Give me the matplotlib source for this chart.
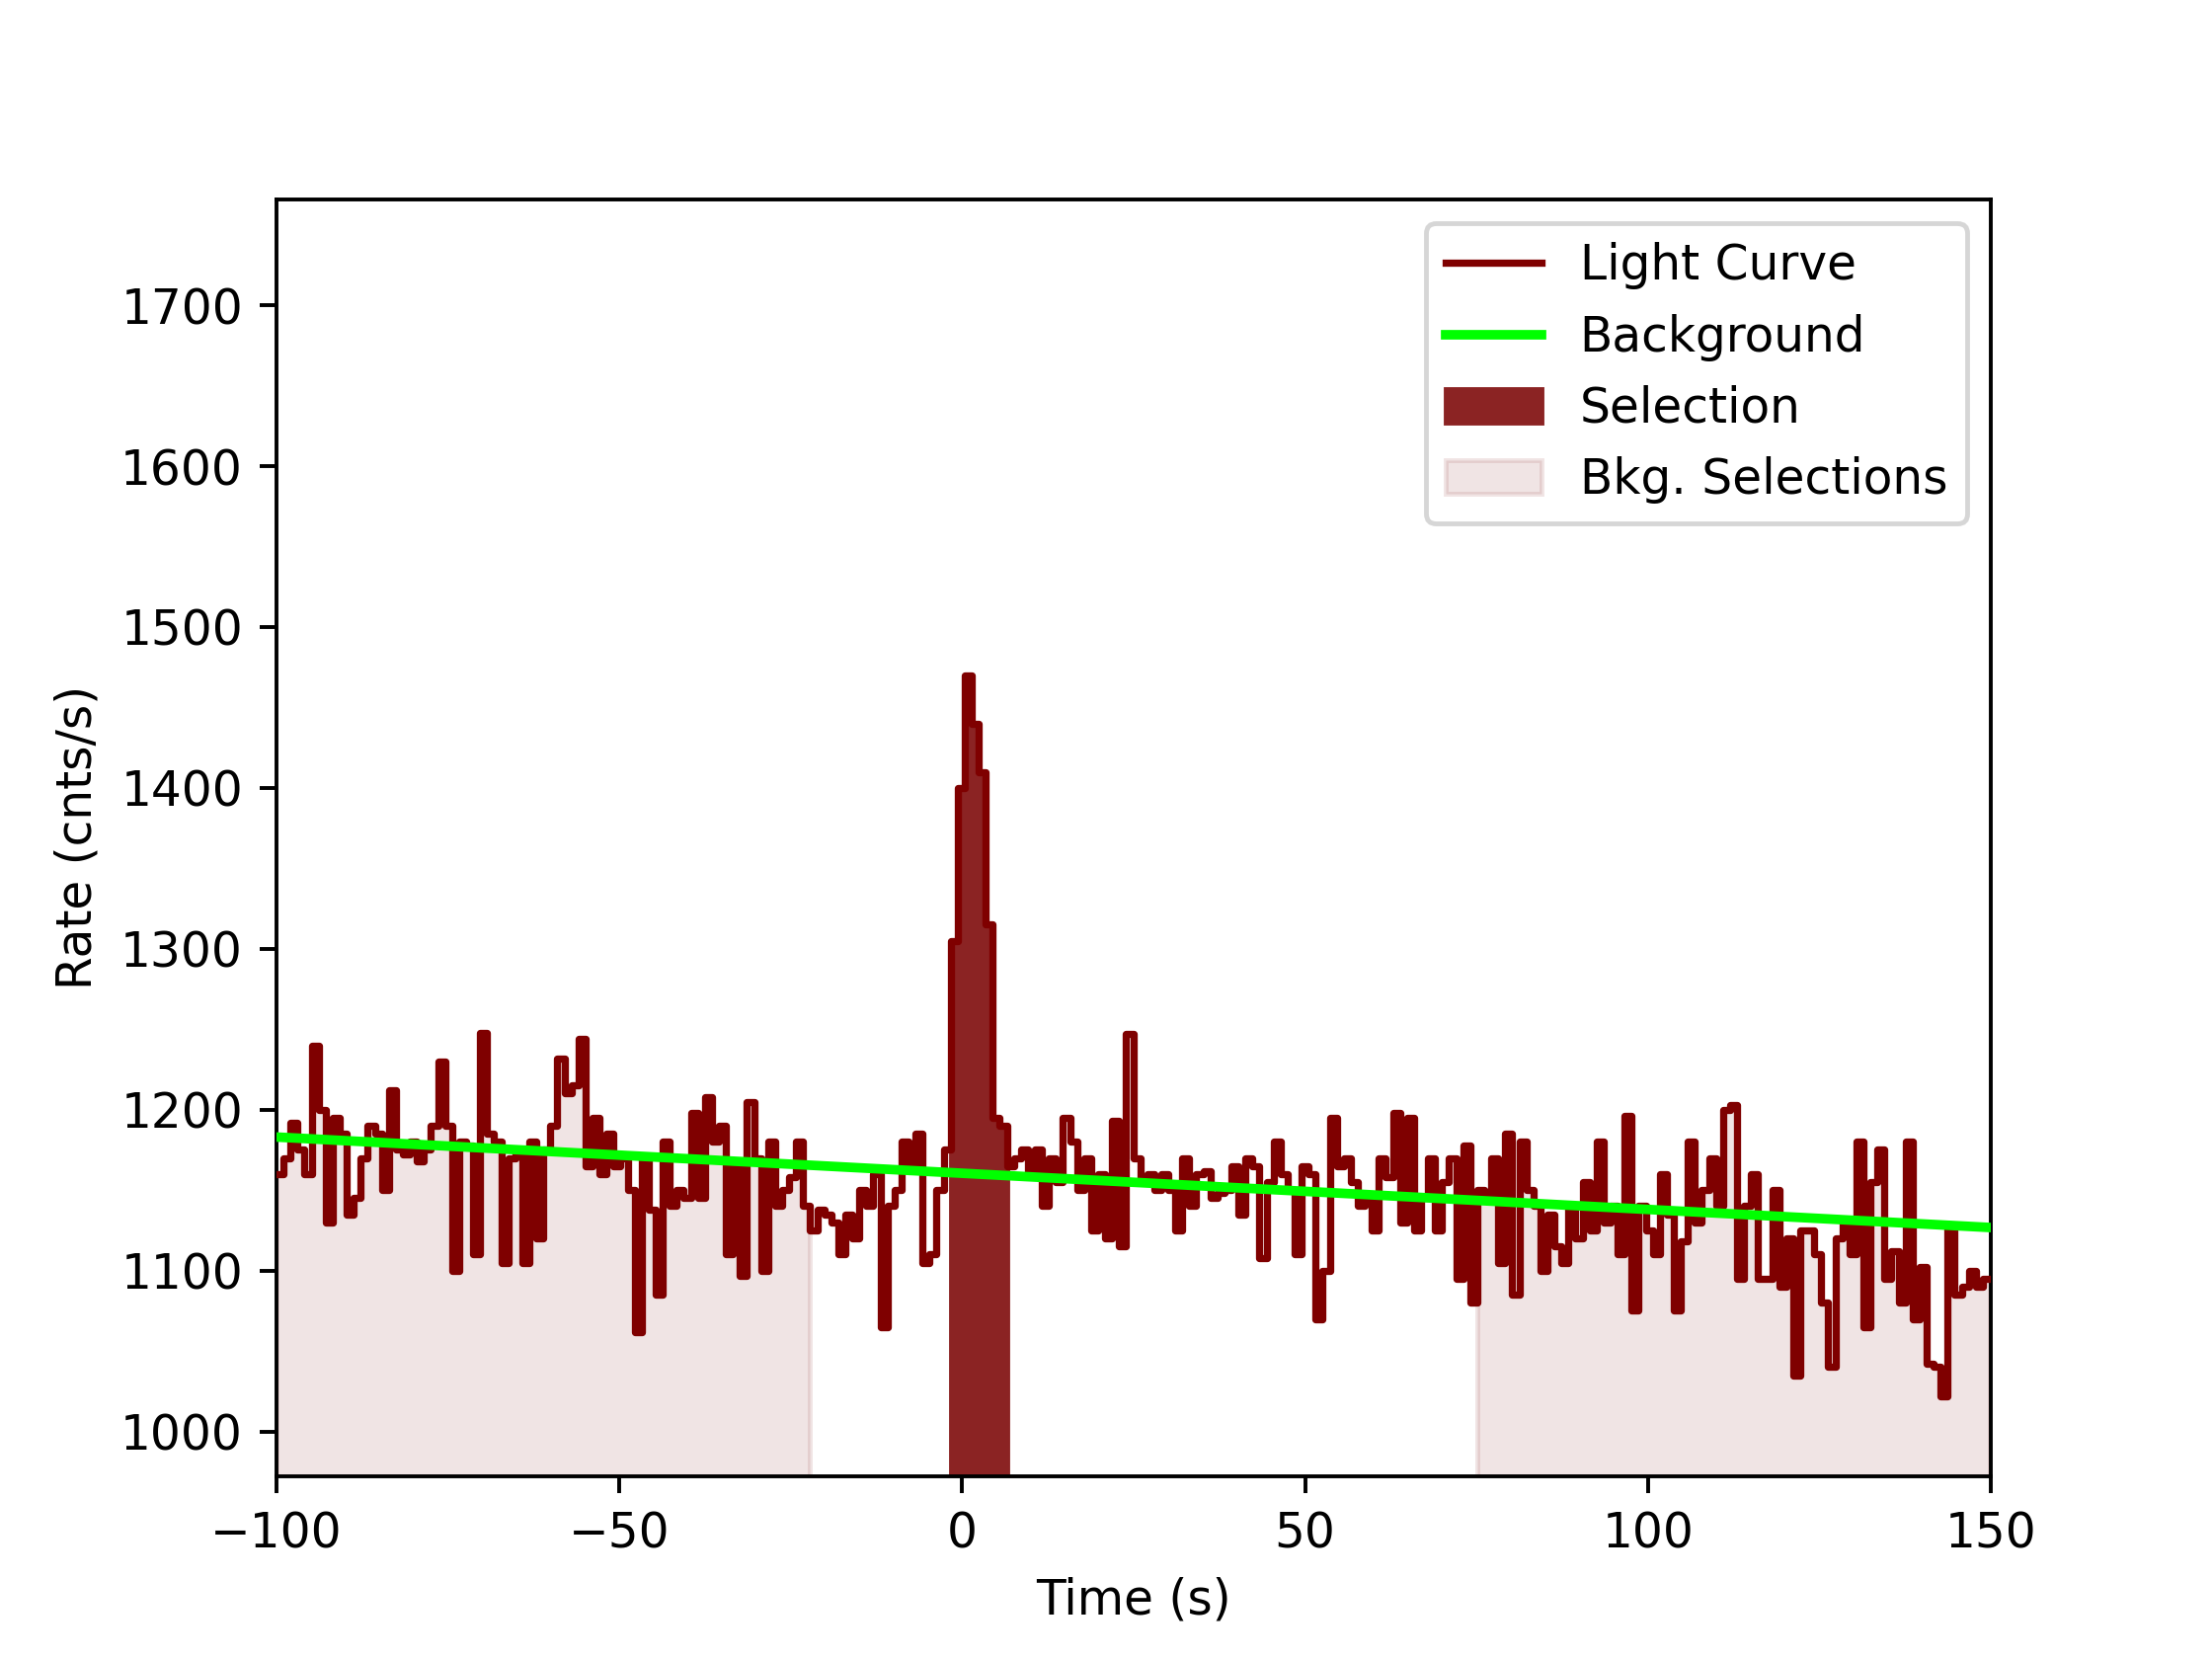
import numpy as np
import matplotlib
matplotlib.use("Agg")
import matplotlib.pyplot as plt

# Light curve: 1.024 s bins starting at -100 s
bin_width = 1.024
t_start = -100.0
rates = [
    1160, 1170, 1192, 1175, 1160, 1240, 1200, 1130, 1195, 1185,
    1135, 1145, 1170, 1190, 1185, 1150, 1212, 1175, 1172, 1180,
    1168, 1175, 1190, 1230, 1190, 1100, 1180, 1178, 1110, 1248,
    1185, 1180, 1105, 1170, 1175, 1105, 1180, 1120, 1175, 1190,
    1232, 1210, 1215, 1244, 1165, 1195, 1160, 1185, 1165, 1170,
    1150, 1062, 1170, 1138, 1085, 1180, 1140, 1150, 1145, 1198,
    1145, 1208, 1180, 1190, 1110, 1165, 1097, 1205, 1170, 1100,
    1180, 1140, 1150, 1158, 1180, 1140, 1125, 1138, 1135, 1130,
    1110, 1135, 1120, 1150, 1140, 1160, 1065, 1140, 1150, 1180,
    1165, 1185, 1105, 1110, 1150, 1175, 1305, 1400, 1470, 1440,
    1410, 1315, 1195, 1190, 1165, 1170, 1175, 1160, 1175, 1140,
    1170, 1155, 1195, 1180, 1150, 1170, 1125, 1160, 1120, 1193,
    1115, 1247, 1170, 1155, 1160, 1150, 1160, 1150, 1125, 1170,
    1140, 1160, 1162, 1145, 1148, 1150, 1165, 1135, 1170, 1165,
    1108, 1155, 1180, 1160, 1150, 1110, 1165, 1160, 1070, 1100,
    1195, 1165, 1170, 1155, 1140, 1145, 1125, 1170, 1158, 1198,
    1130, 1195, 1125, 1145, 1170, 1125, 1155, 1170, 1095, 1178,
    1080, 1150, 1145, 1170, 1105, 1185, 1085, 1180, 1150, 1140,
    1100, 1135, 1115, 1105, 1140, 1120, 1155, 1125, 1180, 1130,
    1140, 1110, 1196, 1075, 1140, 1125, 1110, 1160, 1135, 1075,
    1118, 1180, 1130, 1150, 1170, 1140, 1200, 1203, 1095, 1140,
    1160, 1095, 1095, 1150, 1090, 1120, 1035, 1125, 1125, 1110,
    1080, 1040, 1120, 1130, 1110, 1180, 1065, 1155, 1175, 1095,
    1112, 1080, 1180, 1070, 1102, 1042, 1040, 1022, 1128, 1085,
    1090, 1100, 1090, 1095,
]

# Background polynomial fit (rate = a + b*t)
bkg_coef = [1160.5, -0.225]

# Selection intervals (s)
src_interval = (-1.7, 7.5)
bkg_intervals = [(-100.0, -22.0), (75.0, 150.0)]

# %%
rates = np.array(rates, dtype=float)
edges = t_start + bin_width * np.arange(len(rates) + 1)
y_step = np.append(rates, rates[-1])

fig, ax = plt.subplots(figsize=(6.4, 4.8), dpi=350)

ax.step(edges, y_step, where="post", color="#7f0000", lw=1.5, label="Light Curve", zorder=3)

t_line = np.linspace(-100, 150, 200)
ax.plot(t_line, bkg_coef[0] + bkg_coef[1] * t_line, color="#00ff00", lw=2, label="Background", zorder=4)

mask = (edges >= src_interval[0]) & (edges <= src_interval[1])
ax.fill_between(edges[mask], 0, y_step[mask], step="post", color="#8b2323", zorder=2, label="Selection")

for i, (lo, hi) in enumerate(bkg_intervals):
    m = (edges >= lo) & (edges <= hi)
    ax.fill_between(edges[m], 0, y_step[m], step="post", color="#8b2323", alpha=0.12,
                    zorder=1, label="Bkg. Selections" if i == 0 else None)

ax.set_xlim(-100, 150)
ax.set_ylim(972, 1766)
ax.set_xlabel("Time (s)")
ax.set_ylabel("Rate (cnts/s)")
ax.legend(loc="upper right")

fig.savefig("out.png")
